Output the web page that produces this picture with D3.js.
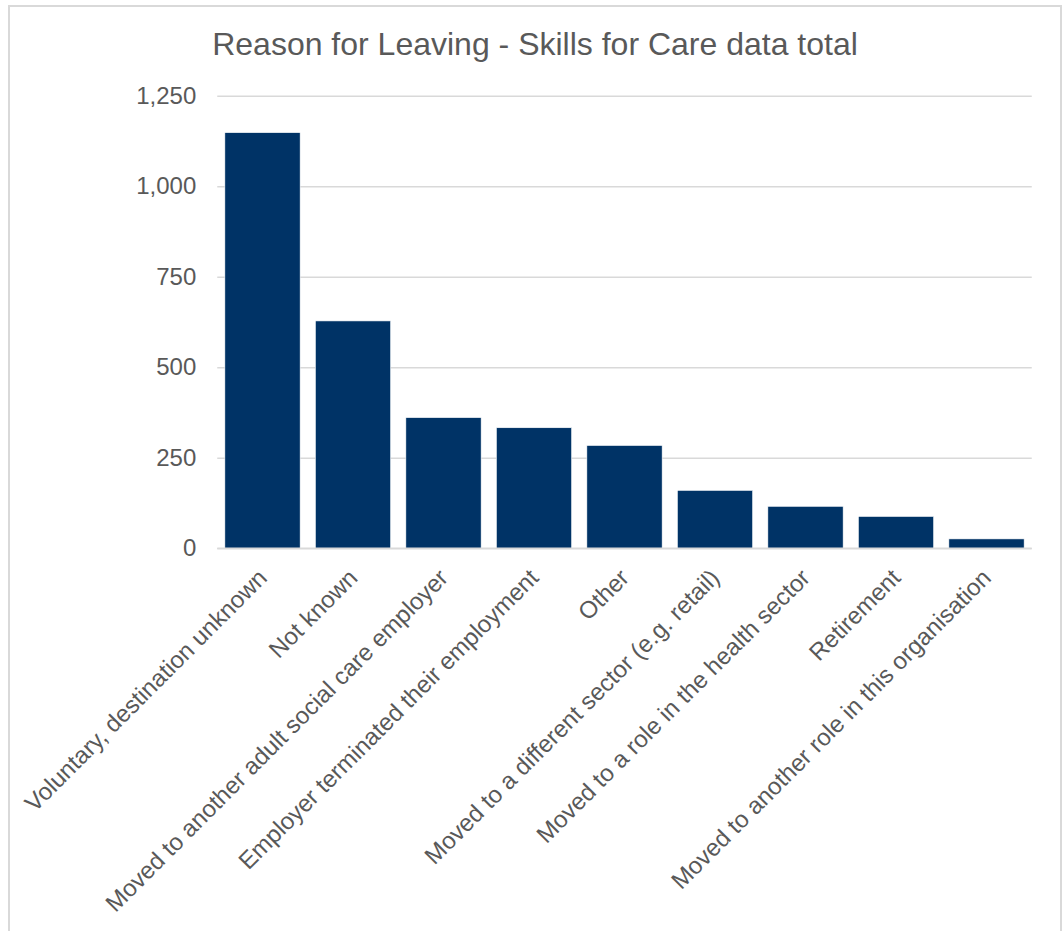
<!DOCTYPE html>
<html>
<head>
<meta charset="utf-8">
<script src="https://cdn.jsdelivr.net/npm/d3@7"></script>
<style>
  html, body { margin: 0; padding: 0; background: #ffffff; }
  svg { display: block; }
  text { font-family: Arial, "Liberation Sans", sans-serif; fill: #595959; }
</style>
</head>
<body>
<div id="chart"></div>
<script>
// Leaver counts by reason, Skills for Care dataset
const reasons = [
  "Voluntary, destination unknown",
  "Not known",
  "Moved to another adult social care employer",
  "Employer terminated their employment",
  "Other",
  "Moved to a different sector (e.g. retail)",
  "Moved to a role in the health sector",
  "Retirement",
  "Moved to another role in this organisation"
];
const leavers = [1148, 628, 361, 333, 284, 160, 116, 88, 26];
const yTicks = [0, 250, 500, 750, 1000, 1250];
const chartTitle = "Reason for Leaving - Skills for Care data total";

const W = 1063, H = 931;
const svg = d3.select("#chart").append("svg")
  .attr("width", W).attr("height", H);

// outer chart frame (open at the bottom edge of the page)
svg.append("path")
  .attr("d", `M9,${H + 5} V6 H1061 V${H + 5}`)
  .attr("fill", "none")
  .attr("stroke", "#d9d9d9")
  .attr("stroke-width", 2);

const plot = { left: 217.25, right: 1031.75, top: 95.7, bottom: 548.3 };

const x = d3.scaleBand()
  .domain(reasons)
  .range([plot.left, plot.right])
  .paddingInner(0.168)
  .paddingOuter(0.084);

const y = d3.scaleLinear()
  .domain([0, 1250])
  .range([plot.bottom, plot.top]);

// horizontal gridlines and value labels
const yAxis = d3.axisLeft(y)
  .tickValues(yTicks)
  .tickSize(-(plot.right - plot.left))
  .tickPadding(21)
  .tickFormat(d3.format(","));

const gy = svg.append("g")
  .attr("transform", `translate(${plot.left},0)`)
  .call(yAxis);
gy.select(".domain").remove();
gy.selectAll(".tick line")
  .attr("stroke", "#d9d9d9")
  .attr("stroke-width", 1.5);
gy.selectAll(".tick text")
  .attr("fill", "#595959")
  .style("font-size", "24px");

// bars
svg.append("g")
  .selectAll("rect")
  .data(leavers)
  .join("rect")
  .attr("x", (d, i) => x(reasons[i]))
  .attr("width", x.bandwidth())
  .attr("y", d => y(d))
  .attr("height", d => y(0) - y(d))
  .attr("fill", "#003366")
  .attr("stroke", "#ffffff")
  .attr("stroke-width", 0.6);

// baseline
svg.append("line")
  .attr("x1", plot.left).attr("x2", plot.right)
  .attr("y1", y(0)).attr("y2", y(0))
  .attr("stroke", "#d9d9d9")
  .attr("stroke-width", 1.5);

// rotated category labels
const xAxis = d3.axisBottom(x).tickSize(0).tickPadding(0);
const gx = svg.append("g")
  .attr("transform", `translate(0,${y(0)})`)
  .call(xAxis);
gx.select(".domain").remove();
gx.selectAll(".tick text")
  .attr("fill", "#595959")
  .style("font-size", "24px")
  .attr("text-anchor", "end")
  .attr("dy", null)
  .attr("y", null)
  .attr("transform", "translate(6,31) rotate(-45)");

// title
svg.append("text")
  .attr("x", 535)
  .attr("y", 55.3)
  .attr("text-anchor", "middle")
  .style("font-size", "32px")
  .attr("fill", "#595959")
  .text(chartTitle);
</script>
</body>
</html>
